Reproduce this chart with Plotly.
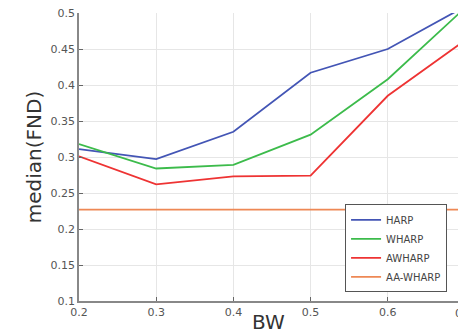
import plotly.graph_objects as go

bw = [0.2, 0.3, 0.4, 0.5, 0.6, 0.7]
harp = [0.311, 0.297, 0.335, 0.417, 0.450, 0.509]
wharp = [0.318, 0.284, 0.289, 0.331, 0.408, 0.507]
awharp = [0.301, 0.262, 0.273, 0.274, 0.385, 0.462]
aawharp = [0.227, 0.227, 0.227, 0.227, 0.227, 0.227]

names = ["HARP", "WHARP", "AWHARP", "AA-WHARP"]
series = [harp, wharp, awharp, aawharp]
colors = ["#4355b5", "#3cbb4b", "#ee3333", "#ee8855"]

xticks = [0.2, 0.3, 0.4, 0.5, 0.6]
yticks = [0.1, 0.15, 0.2, 0.25, 0.3, 0.35, 0.4, 0.45, 0.5]

fig = go.Figure()
for n, s, c in zip(names, series, colors):
    fig.add_trace(go.Scatter(x=bw, y=s, name=n, mode="lines",
                             line=dict(color=c, width=1.8)))

font = "DejaVu Sans"
fig.update_layout(
    width=458, height=334,
    margin=dict(l=79, r=0, t=13, b=33),
    paper_bgcolor="white", plot_bgcolor="white",
    font=dict(family=font, color="#555"),
    showlegend=True,
    legend=dict(x=0.702, y=0.03, xanchor="left", yanchor="bottom",
                bgcolor="white", bordercolor="#555", borderwidth=1,
                font=dict(size=10, color="#444", family=font),
                tracegroupgap=0, itemwidth=30),
    xaxis=dict(range=[0.2, 0.691], tickvals=xticks,
               ticktext=[f"{v:g}" for v in xticks],
               showgrid=True, gridcolor="#e6e6e6", gridwidth=1,
               showline=True, linecolor="#888", linewidth=1.5,
               ticks="inside", ticklen=4, tickcolor="#666",
               tickfont=dict(size=11, color="#555"),
               zeroline=False,
               title=dict(text="BW", font=dict(size=20, color="#333"), standoff=0)),
    yaxis=dict(range=[0.1, 0.5], tickvals=yticks,
               ticktext=[f"{v:g}" for v in yticks],
               showgrid=True, gridcolor="#e6e6e6", gridwidth=1,
               showline=True, linecolor="#888", linewidth=1.5,
               ticks="inside", ticklen=4, tickcolor="#666",
               tickfont=dict(size=11, color="#555"),
               zeroline=False,
               title=dict(text="median(FND)", font=dict(size=20, color="#333"), standoff=4)),
)
fig.add_annotation(x=1.0, xref="paper", y=0, yref="paper", yshift=-4,
                   text="0.7", showarrow=False, xanchor="left", yanchor="top",
                   xshift=-5, font=dict(size=11, color="#555", family=font))

fig.write_html("out.html")
